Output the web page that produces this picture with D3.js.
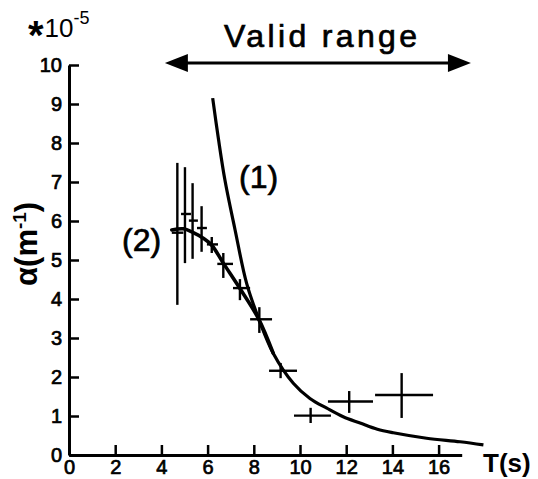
<!DOCTYPE html>
<html>
<head>
<meta charset="utf-8">
<script src="https://cdn.jsdelivr.net/npm/d3@7"></script>
<style>
  body { margin: 0; background: #fff; }
  text { font-family: "Liberation Sans", Arial, sans-serif; fill: #000; }
</style>
</head>
<body>
<div id="cntr"></div>
<script>
// wave period T (s) and attenuation alpha (x 1e-5 m^-1)
const periods    = [4.69, 5.02, 5.35, 5.74, 6.18, 6.68, 7.40, 8.24, 9.16, 10.46, 12.13, 14.40];
const periodLow  = [4.45, 4.85, 5.19, 5.54, 5.97, 6.42, 7.10, 7.84, 8.66, 9.74, 11.21, 13.25];
const periodHigh = [4.95, 5.28, 5.58, 5.97, 6.45, 7.10, 7.84, 8.79, 9.87, 11.34, 13.16, 15.76];
const alphas     = [5.70, 6.18, 6.01, 5.82, 5.40, 4.90, 4.28, 3.48, 2.16, 1.01, 1.37, 1.54];
const alphaLow   = [3.85, 4.92, 5.03, 5.21, 5.18, 4.54, 3.97, 3.13, 1.97, 0.82, 1.08, 0.95];
const alphaHigh  = [7.49, 7.38, 6.97, 6.38, 5.59, 5.18, 4.51, 3.79, 2.36, 1.21, 1.64, 2.10];

// curve (1): theory
const curve1T = [6.22, 6.47, 6.75, 7.19, 7.69, 8.24, 8.84, 9.71, 10.43, 11.16, 11.87, 12.6, 13.35, 14.04, 15.48, 16.93, 17.94];
const curve1A = [9.15, 8.10, 7.05, 5.77, 4.40, 3.45, 2.61, 1.84, 1.45, 1.20, 0.98, 0.82, 0.66, 0.57, 0.43, 0.34, 0.26];

// curve (2): fit
const curve2T = [4.45, 4.95, 5.38, 5.81, 6.18, 6.68, 7.40, 8.19, 8.84];
const curve2A = [5.77, 5.80, 5.70, 5.56, 5.38, 4.92, 4.27, 3.51, 2.61];

const xTicks = [0, 2, 4, 6, 8, 10, 12, 14, 16];
const yTicks = [0, 1, 2, 3, 4, 5, 6, 7, 8, 9, 10];
const validRange = [4.15, 17.4];

const width = 538, height = 479;

const svg = d3.select("#cntr")
    .append("svg")
    .attr("width", width)
    .attr("height", height);

const x = d3.scaleLinear().domain([0, 17]).range([69, 69 + 23.1 * 17]);
const y = d3.scaleLinear().domain([0, 10]).range([455, 65]);

// axes, ticks pointing inward
const xAxis = svg.append("g")
    .attr("transform", "translate(0," + y(0) + ")")
    .call(d3.axisBottom(x).tickValues(xTicks).tickSizeInner(-10).tickSizeOuter(0).tickPadding(5));

const yAxis = svg.append("g")
    .attr("transform", "translate(" + x(0) + ",0)")
    .call(d3.axisLeft(y).tickValues(yTicks).tickSizeInner(-10).tickSizeOuter(0).tickPadding(7));

[xAxis, yAxis].forEach(g => {
    g.select(".domain").attr("stroke", "#000").attr("stroke-width", 3);
    g.selectAll(".tick line").attr("stroke", "#000").attr("stroke-width", 2.5);
    g.selectAll(".tick text")
        .style("font-size", "20px")
        .style("font-family", "'Liberation Sans', Arial, sans-serif")
        .attr("fill", "#000")
        .attr("stroke", "#000")
        .attr("stroke-width", 0.7);
});
xAxis.selectAll(".tick text").attr("dy", "0.7em");

// curves
const line = d3.line()
    .x(d => x(d[0]))
    .y(d => y(d[1]))
    .curve(d3.curveCatmullRom.alpha(0.5));

svg.append("path")
    .attr("d", line(curve1T.map((t, i) => [t, curve1A[i]])))
    .attr("fill", "none")
    .attr("stroke", "#000")
    .attr("stroke-width", 3.2);

svg.append("path")
    .attr("d", line(curve2T.map((t, i) => [t, curve2A[i]])))
    .attr("fill", "none")
    .attr("stroke", "#000")
    .attr("stroke-width", 3.6)
    .attr("stroke-linecap", "round");

// measured points with error crosses
const pts = periods.map((t, i) => ({
    t: t, a: alphas[i],
    t0: periodLow[i], t1: periodHigh[i],
    a0: alphaLow[i], a1: alphaHigh[i]
}));

const cross = svg.selectAll("g.pt")
    .data(pts)
    .join("g")
        .attr("class", "pt");

cross.append("line")
    .attr("x1", d => x(d.t0)).attr("x2", d => x(d.t1))
    .attr("y1", d => y(d.a)).attr("y2", d => y(d.a))
    .attr("stroke", "#000").attr("stroke-width", 2.4);

cross.append("line")
    .attr("x1", d => x(d.t)).attr("x2", d => x(d.t))
    .attr("y1", d => y(d.a0)).attr("y2", d => y(d.a1))
    .attr("stroke", "#000").attr("stroke-width", 2.4);

// labels
const label = (txt, px, py, size) => svg.append("text")
    .attr("x", px).attr("y", py)
    .style("font-size", size + "px")
    .attr("stroke", "#000")
    .attr("stroke-width", 0.7)
    .text(txt);

label("(1)", 239, 188, 32);
label("(2)", 122, 251, 32);
label("Valid range", 224, 47, 32).attr("textLength", 193);

// valid range arrow
const ay = 63;
svg.append("line")
    .attr("x1", x(validRange[0]) + 15).attr("x2", x(validRange[1]) - 15)
    .attr("y1", ay).attr("y2", ay)
    .attr("stroke", "#000").attr("stroke-width", 3);

svg.append("path")
    .attr("d", "M" + x(validRange[0]) + "," + ay + "l23,-9l0,18z")
    .attr("fill", "#000");
svg.append("path")
    .attr("d", "M" + x(validRange[1]) + "," + ay + "l-23,-9l0,18z")
    .attr("fill", "#000");

// axis titles
svg.append("text")
    .attr("x", 483).attr("y", 472)
    .style("font-size", "26px")
    .style("font-weight", "bold")
    .text("T(s)");

const yt = svg.append("text")
    .attr("transform", "translate(37,286) rotate(-90)")
    .style("font-size", "31px")
    .style("font-weight", "bold");
yt.append("tspan").text("α(m");
yt.append("tspan").attr("dy", -11).style("font-size", "19px").text("-1");
yt.append("tspan").attr("dy", 11).text(")");

// scale factor
const sf = svg.append("text")
    .attr("x", 28).attr("y", 37)
    .style("font-size", "26px");
sf.append("tspan").attr("dy", 12).style("font-size", "40px").style("font-weight", "bold").text("*");
sf.append("tspan").attr("dy", -12).attr("dx", 1).text("10");
sf.append("tspan").attr("dy", -13).style("font-size", "18px").text("-5");
</script>
</body>
</html>
